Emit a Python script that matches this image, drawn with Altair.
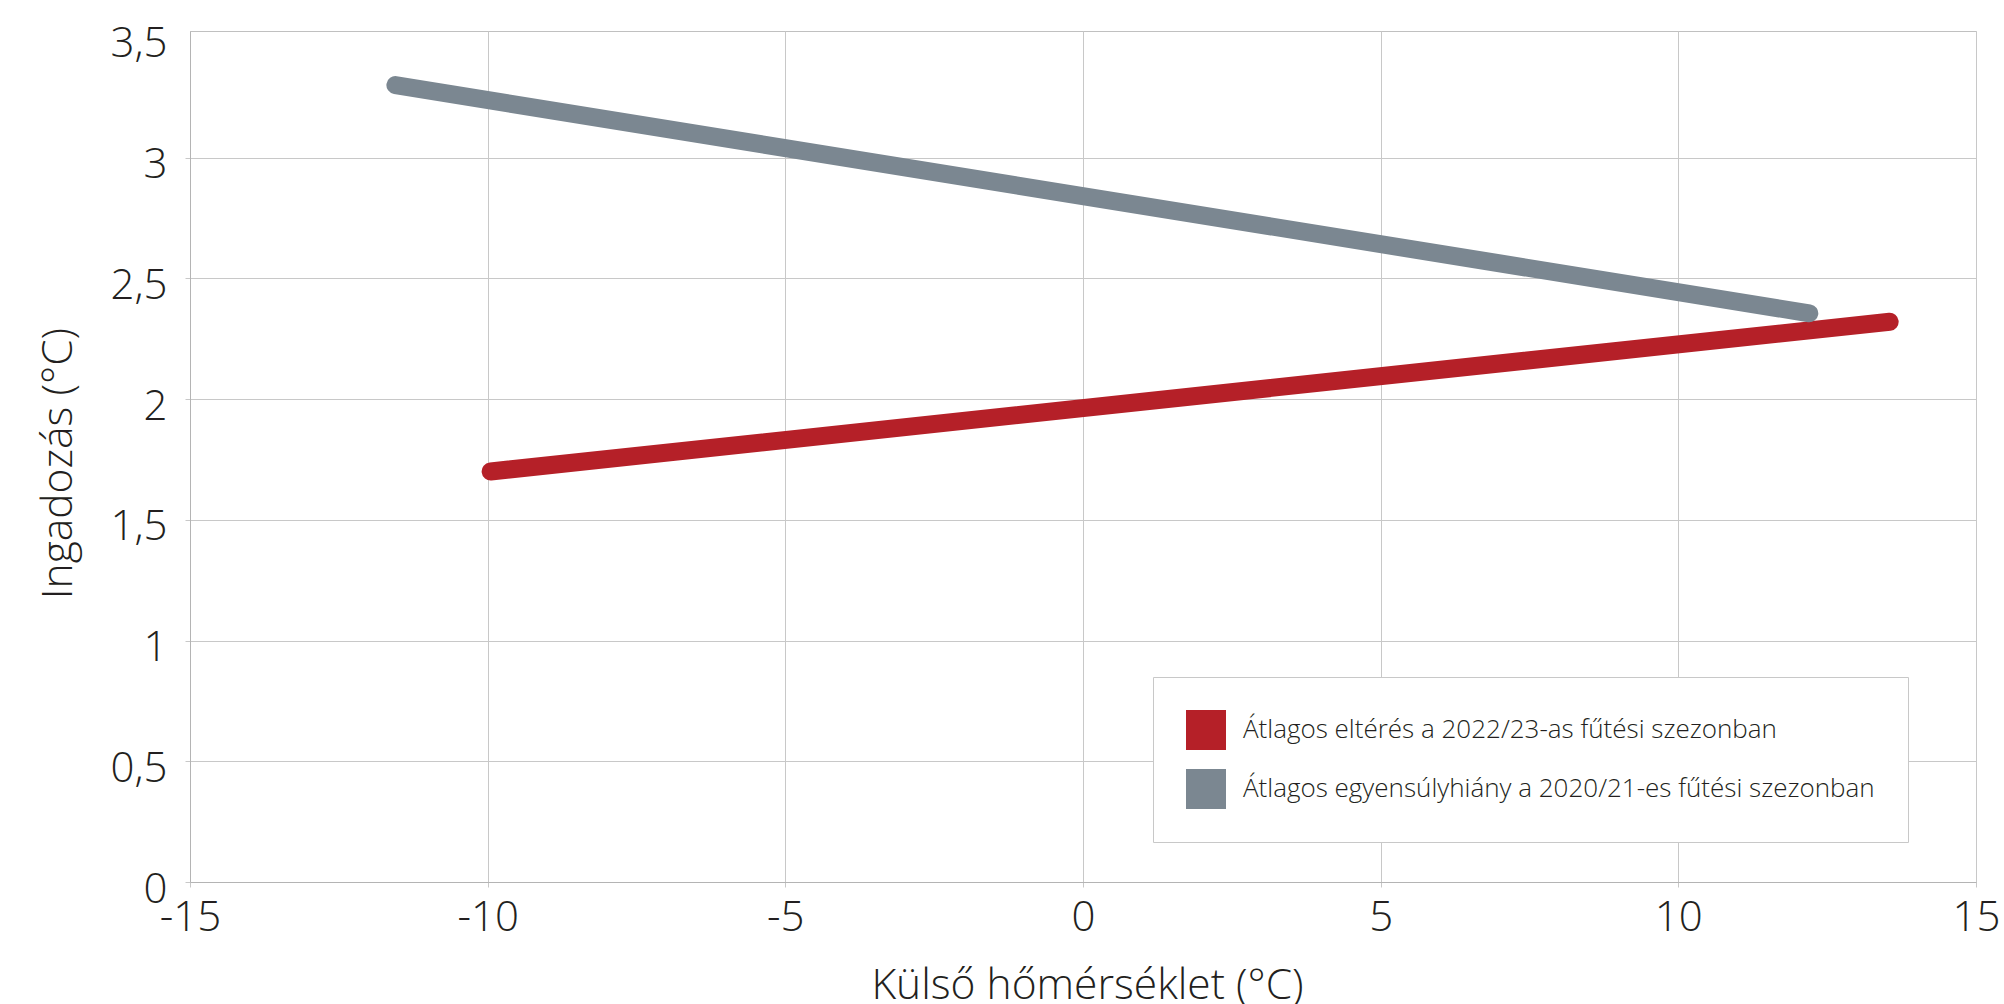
import altair as alt
import pandas as pd

series_names = [
    "Átlagos eltérés a 2022/23-as fűtési szezonban",
    "Átlagos egyensúlyhiány a 2020/21-es fűtési szezonban",
]
series_colors = ["#B52028", "#7B8791"]

red_x = [-9.95, 13.55]
red_y = [1.70, 2.32]
gray_x = [-11.55, 12.2]
gray_y = [3.30, 2.355]

x_ticks = [-15, -10, -5, 0, 5, 10, 15]
y_ticks = [0, 0.5, 1, 1.5, 2, 2.5, 3, 3.5]

rows = []
for xv, yv in zip(red_x, red_y):
    rows.append({"series": series_names[0], "x": xv, "y": yv, "order": len(rows)})
for xv, yv in zip(gray_x, gray_y):
    rows.append({"series": series_names[1], "x": xv, "y": yv, "order": len(rows)})
df = pd.DataFrame(rows)

FONT = "Open Sans"
TEXT = "#231F20"
GRID = "#C8C8C8"

legend = alt.Legend(
    title=None,
    orient="none",
    legendX=963,
    legendY=646,
    symbolType="square",
    symbolSize=1600,
    symbolStrokeWidth=0,
    symbolOpacity=1,
    labelFont=FONT,
    labelFontSize=26,
    labelFontWeight=300,
    labelColor=TEXT,
    labelOffset=17,
    labelLimit=1000,
    rowPadding=19,
    padding=33,
    strokeColor="#C8C8C8",
    fillColor="white",
)
color_scale = alt.Scale(domain=series_names, range=series_colors)

chart = (
    alt.Chart(df)
    .mark_line(strokeWidth=18, strokeCap="round")
    .encode(
        x=alt.X(
            "x:Q",
            scale=alt.Scale(domain=[-15, 15], nice=False, zero=False),
            axis=alt.Axis(
                values=x_ticks,
                title="Külső hőmérséklet (°C)",
                labelExpr="replace(toString(datum.value), '.', ',')",
                labelBaseline="top",
                labelPadding=10,
                tickSize=5,
                labelFlush=False,
                labelOverlap=False,
                titleX=897,
                titleY=116,
                titleAlign="center",
                titleBaseline="alphabetic",
            ),
        ),
        y=alt.Y(
            "y:Q",
            scale=alt.Scale(domain=[0, 3.524], nice=False, zero=True),
            axis=alt.Axis(
                values=y_ticks,
                title="Ingadozás (°C)",
                labelExpr="replace(toString(datum.value), '.', ',')",
                labelBaseline="middle",
                labelAlign="right",
                labelPadding=18,
                labelOffset=7,
                tickSize=5,
                labelFlush=False,
                labelOverlap=False,
                gridOpacity={"condition": {"test": "datum.value >= 3.5", "value": 0}, "value": 1},
                tickOpacity={"condition": {"test": "datum.value >= 3.5", "value": 0}, "value": 1},
                titleAngle=270,
                titleX=-119,
                titleY=432,
                titleAlign="center",
                titleBaseline="alphabetic",
            ),
        ),
        stroke=alt.Stroke("series:N", scale=color_scale, legend=legend),
        fill=alt.Fill("series:N", scale=color_scale, legend=legend),
        order="order:Q",
    )
    .properties(
        width=1786,
        height=851,
        autosize=alt.AutoSizeParams(type="none"),
        padding={"left": 190, "top": 31, "right": 28, "bottom": 122},
    )
    .configure_view(stroke="#C0C0C0", strokeWidth=1)
    .configure_axis(
        gridColor=GRID,
        gridWidth=1,
        domainColor="#B4B4B4",
        tickColor=GRID,
        labelFont=FONT,
        labelFontSize=42,
        labelFontWeight=300,
        labelColor=TEXT,
        titleFont=FONT,
        titleFontSize=42.5,
        titleFontWeight=300,
        titleColor=TEXT,
    )
)

chart.save("out.html", embed_options={"renderer": "svg", "actions": False})
